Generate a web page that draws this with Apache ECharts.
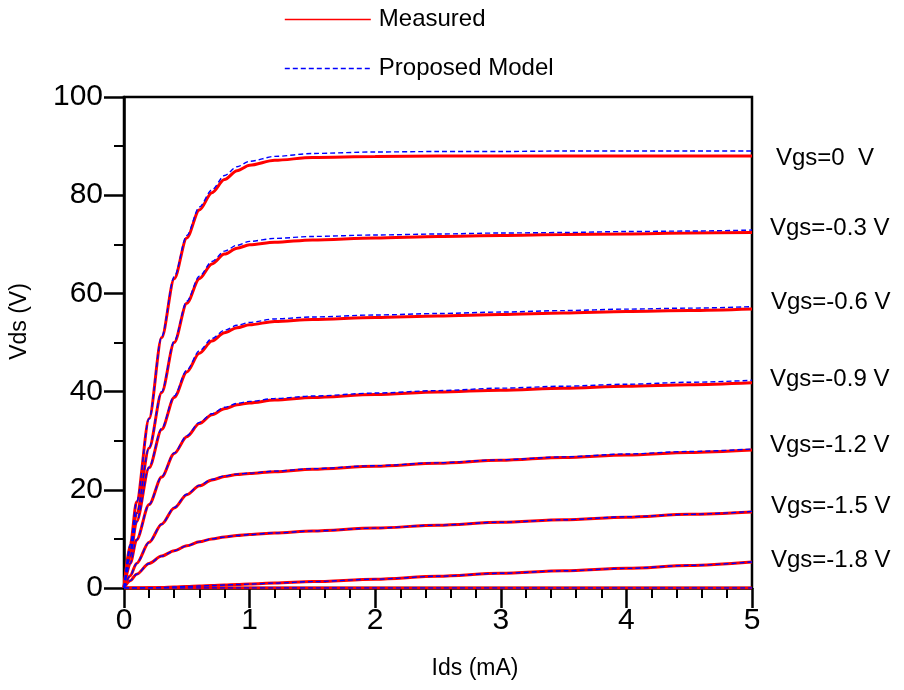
<!DOCTYPE html>
<html>
<head>
<meta charset="utf-8">
<title>Ids–Vds characteristics</title>
<script src="https://cdn.jsdelivr.net/npm/echarts@6/dist/echarts.min.js"></script>
<style>
  html, body { margin: 0; padding: 0; background: #ffffff; }
  #chart { width: 904px; height: 690px; }
</style>
</head>
<body>
<div id="chart"></div>
<script>
// Sample positions along the Ids axis (mA)
const idsPoints = [0, 0.05, 0.1, 0.2, 0.3, 0.4, 0.5, 0.6, 0.7, 0.8, 0.9, 1.0, 1.2, 1.5, 2, 2.5, 3, 3.5, 4, 4.5, 5];

// Gate-voltage labels, top curve first
const vgsLabels = ['Vgs=0  V', 'Vgs=-0.3 V', 'Vgs=-0.6 V', 'Vgs=-0.9 V', 'Vgs=-1.2 V', 'Vgs=-1.5 V', 'Vgs=-1.8 V'];

// Measured Vds (V) per gate voltage
const measuredVgs0   = [0, 8.8, 17.5, 34.5, 51, 63, 71.3, 77.0, 80.5, 83.2, 85.0, 86.1, 87.1, 87.7, 87.9, 88.0, 88.0, 88.0, 88.0, 88.0, 88.0];
const measuredVgsM03 = [0, 7.8, 15.2, 28.5, 39.8, 50.0, 58.0, 63.0, 66.0, 68.0, 69.2, 69.9, 70.4, 70.9, 71.3, 71.6, 71.8, 72.0, 72.1, 72.3, 72.4];
const measuredVgsM06 = [0, 6.5, 13.5, 24.5, 32.3, 38.8, 44.0, 47.8, 50.3, 52.0, 53.0, 53.6, 54.3, 54.7, 55.1, 55.4, 55.7, 56.0, 56.3, 56.5, 56.8];
const measuredVgsM09 = [0, 5, 9.8, 17, 22.6, 27.4, 30.8, 33.5, 35.3, 36.5, 37.3, 37.7, 38.3, 38.8, 39.4, 39.9, 40.3, 40.7, 41.1, 41.4, 41.8];
const measuredVgsM12 = [0, 2.5, 5, 9.3, 13.0, 16.3, 19.0, 20.8, 22.0, 22.7, 23.1, 23.3, 23.7, 24.2, 24.8, 25.4, 26.0, 26.6, 27.1, 27.6, 28.1];
const measuredVgsM15 = [0, 1.5, 2.8, 5.0, 6.5, 7.6, 8.6, 9.4, 10.0, 10.4, 10.7, 10.9, 11.2, 11.6, 12.2, 12.8, 13.4, 13.9, 14.4, 15.0, 15.5];
const measuredVgsM18 = [0, 0, 0, 0.05, 0.1, 0.2, 0.3, 0.4, 0.5, 0.6, 0.7, 0.8, 1.0, 1.3, 1.8, 2.4, 3.0, 3.5, 4.0, 4.6, 5.3];
const measuredVgsM21 = [0, 0, 0, 0, 0, 0, 0, 0, 0, 0, 0, 0, 0, 0, 0, 0, 0, 0, 0, 0, 0];

// Proposed model Vds (V) per gate voltage
const modelVgs0   = [0, 8.8, 17.5, 34.5, 51.2, 63.4, 71.8, 77.6, 81.1, 84.0, 85.8, 86.9, 87.9, 88.5, 88.8, 88.9, 88.9, 89.0, 89.0, 89.0, 89.0];
const modelVgsM03 = [0, 7.8, 15.2, 28.6, 40.0, 50.3, 58.4, 63.5, 66.5, 68.6, 69.8, 70.6, 71.2, 71.6, 71.9, 72.1, 72.3, 72.4, 72.6, 72.7, 72.9];
const modelVgsM06 = [0, 6.5, 13.5, 24.6, 32.5, 39.1, 44.4, 48.3, 50.8, 52.5, 53.5, 54.1, 54.8, 55.2, 55.6, 55.9, 56.2, 56.5, 56.8, 57.0, 57.3];
const modelVgsM09 = [0, 5, 9.8, 17, 22.7, 27.5, 31.0, 33.7, 35.5, 36.8, 37.6, 38.0, 38.6, 39.1, 39.7, 40.2, 40.7, 41.1, 41.5, 41.9, 42.3];
const modelVgsM12 = [0, 2.5, 5, 9.3, 13.0, 16.4, 19.1, 20.9, 22.1, 22.8, 23.2, 23.4, 23.8, 24.3, 24.9, 25.5, 26.1, 26.7, 27.3, 27.8, 28.3];
const modelVgsM15 = [0, 1.5, 2.8, 5.0, 6.5, 7.6, 8.6, 9.4, 10.0, 10.4, 10.7, 10.9, 11.2, 11.6, 12.2, 12.8, 13.4, 13.9, 14.5, 15.0, 15.6];
const modelVgsM18 = [0, 0, 0, 0.05, 0.1, 0.2, 0.3, 0.4, 0.5, 0.6, 0.7, 0.8, 1.0, 1.3, 1.8, 2.4, 3.0, 3.5, 4.0, 4.6, 5.3];
const modelVgsM21 = [0, 0, 0, 0, 0, 0, 0, 0, 0, 0, 0, 0, 0, 0, 0, 0, 0, 0, 0, 0, 0];

// Axis ticks
const xTickInterval = 1;
const yTickInterval = 20;

const measuredCurves = [measuredVgs0, measuredVgsM03, measuredVgsM06, measuredVgsM09, measuredVgsM12, measuredVgsM15, measuredVgsM18, measuredVgsM21];
const modelCurves = [modelVgs0, modelVgsM03, modelVgsM06, modelVgsM09, modelVgsM12, modelVgsM15, modelVgsM18, modelVgsM21];

const FONT = '"Liberation Sans", Arial, Helvetica, sans-serif';

function pairs(ys) {
  return idsPoints.map((x, i) => [x, ys[i]]);
}

const series = [];
measuredCurves.forEach((ys) => {
  series.push({
    name: 'Measured',
    type: 'line',
    data: pairs(ys),
    symbol: 'none',
    smooth: 0.3,
    smoothMonotone: 'x',
    lineStyle: { color: '#ff0000', width: 3 },
    itemStyle: { color: '#ff0000' },
    z: 2,
    silent: true
  });
});
modelCurves.forEach((ys) => {
  series.push({
    name: 'Proposed Model',
    type: 'line',
    data: pairs(ys),
    symbol: 'none',
    smooth: 0.3,
    smoothMonotone: 'x',
    lineStyle: { color: '#0000ff', width: 1.4, type: [5, 3] },
    itemStyle: { color: '#0000ff' },
    z: 3,
    silent: true
  });
});

// Curve labels to the right of the plot
const labelY = [158, 228, 302, 379, 445, 506, 560];
const labelX = [776, 770, 771, 770, 770, 771, 771];
const graphics = vgsLabels.map((t, i) => ({
  type: 'text',
  left: labelX[i],
  top: labelY[i] - 12,
  style: { text: t, font: '24px ' + FONT, fill: '#000000' }
}));

const chart = echarts.init(document.getElementById('chart'), null, { renderer: 'canvas' });
chart.setOption({
  backgroundColor: '#ffffff',
  animation: false,
  grid: {
    left: 123, right: 152, top: 97, bottom: 102,
    show: true, borderColor: '#000000', borderWidth: 2.5, backgroundColor: 'transparent'
  },
  legend: {
    data: ['Measured', 'Proposed Model'],
    orient: 'vertical',
    left: 279,
    top: 2,
    itemWidth: 86,
    itemHeight: 1,
    itemGap: 24,
    itemStyle: { opacity: 0, borderWidth: 0 },
    textStyle: { fontFamily: FONT, fontSize: 24, color: '#000000', lineHeight: 25, padding: [0, 0, 0, 3] },
    lineStyle: { width: 1.6 },
    selectedMode: false
  },
  xAxis: {
    type: 'value',
    min: 0, max: 5, interval: xTickInterval,
    name: 'Ids (mA)',
    nameLocation: 'middle',
    nameGap: 69,
    nameTextStyle: { fontFamily: FONT, fontSize: 23, color: '#000000', padding: [0, 0, 0, 74] },
    axisLine: { show: true, lineStyle: { color: '#000000', width: 2.5 } },
    axisTick: { show: true, length: 20, lineStyle: { color: '#000000', width: 2.5 } },
    minorTick: { show: true, splitNumber: 5, length: 10, lineStyle: { color: '#000000', width: 2 } },
    axisLabel: { fontFamily: FONT, fontSize: 30, color: '#000000', margin: 18 },
    splitLine: { show: false }
  },
  yAxis: {
    type: 'value',
    min: 0, max: 100, interval: yTickInterval,
    name: 'Vds (V)',
    nameLocation: 'middle',
    nameRotate: 90,
    nameGap: 93,
    nameTextStyle: { fontFamily: FONT, fontSize: 23, color: '#000000', padding: [0, 0, 0, 42] },
    axisLine: { show: true, lineStyle: { color: '#000000', width: 2.5 } },
    axisTick: { show: true, length: 20, lineStyle: { color: '#000000', width: 2.5 } },
    minorTick: { show: true, splitNumber: 2, length: 10, lineStyle: { color: '#000000', width: 2 } },
    axisLabel: { fontFamily: FONT, fontSize: 30, color: '#000000', margin: 21 },
    splitLine: { show: false }
  },
  graphic: graphics,
  series: series
});
</script>
</body>
</html>
